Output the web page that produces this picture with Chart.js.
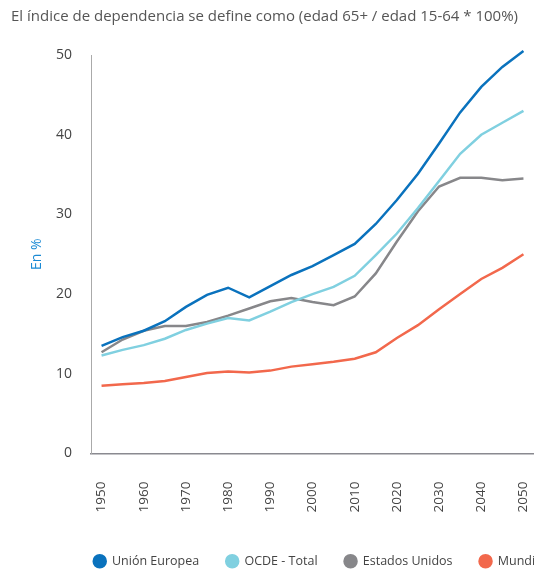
<!DOCTYPE html>
<html>
<head>
<meta charset="utf-8">
<script src="https://cdn.jsdelivr.net/npm/chart.js@4"></script>
<style>
  html, body { margin: 0; padding: 0; background: #fff; overflow: hidden; }
  #box { width: 534px; height: 569px; }
</style>
</head>
<body>
<div id="box"><canvas id="chart"></canvas></div>
<script>
const years = ['1950', '1955', '1960', '1965', '1970', '1975', '1980', '1985', '1990', '1995', '2000',
    '2005', '2010', '2015', '2020', '2025', '2030', '2035', '2040', '2045', '2050'];
const unionEuropea = [13.5, 14.6, 15.4, 16.6, 18.4, 19.9, 20.8, 19.6, 21.0, 22.4, 23.5,
    24.9, 26.3, 28.8, 31.8, 35.1, 38.9, 42.8, 46.0, 48.5, 50.5];
const ocdeTotal = [12.3, 13.0, 13.6, 14.4, 15.5, 16.3, 17.0, 16.7, 17.8, 19.0, 20.0,
    20.9, 22.3, 24.9, 27.6, 30.8, 34.2, 37.6, 40.0, 41.5, 43.0];
const estadosUnidos = [12.7, 14.3, 15.4, 16.0, 16.0, 16.5, 17.3, 18.2, 19.1, 19.5, 19.0,
    18.6, 19.7, 22.6, 26.6, 30.4, 33.5, 34.6, 34.6, 34.3, 34.5];
const mundial = [8.5, 8.7, 8.85, 9.1, 9.6, 10.1, 10.3, 10.15, 10.4, 10.9, 11.2,
    11.5, 11.9, 12.7, 14.5, 16.1, 18.1, 20.0, 21.9, 23.3, 25.0];
const yTicks = [0, 10, 20, 30, 40, 50];

const font = "'Open Sans', 'Noto Sans', sans-serif";

function line(label, data, color) {
    return {
        label: label,
        data: data,
        borderColor: color,
        backgroundColor: color,
        borderWidth: 2.5,
        pointRadius: 0,
        tension: 0,
        clip: 6
    };
}

// the legend in the original runs off the right edge, so push it over a bit
const shiftLegend = {
    id: 'shiftLegend',
    afterLayout(chart) {
        const lg = chart.legend;
        lg.left += 47; lg.right += 47;
        lg.top += 8.5; lg.bottom += 8.5;
    }
};

new Chart(document.getElementById('chart').getContext('2d'), {
    type: 'line',
    data: {
        labels: years,
        datasets: [
            line('Unión Europea', unionEuropea, '#0a72bd'),
            line('OCDE - Total', ocdeTotal, '#80d0e0'),
            line('Estados Unidos', estadosUnidos, '#87878a'),
            line('Mundial', mundial, '#f2684c')
        ]
    },
    plugins: [shiftLegend],
    options: {
        responsive: true,
        maintainAspectRatio: false,
        animation: false,
        layout: { padding: { left: 11, right: 0, top: 0, bottom: 0 } },
        plugins: {
            title: {
                display: true,
                text: 'El índice de dependencia se define como (edad 65+ / edad 15-64 * 100%)',
                align: 'start',
                color: '#555',
                font: { family: font, size: 15, weight: 'normal' },
                padding: { top: 8, bottom: 29 }
            },
            legend: {
                position: 'bottom',
                labels: {
                    usePointStyle: true,
                    pointStyle: 'circle',
                    boxWidth: 12,
                    boxHeight: 8.5,
                    padding: 27,
                    color: '#444',
                    font: { family: font, size: 12.5 }
                }
            },
            tooltip: { enabled: false }
        },
        scales: {
            x: {
                offset: true,
                afterFit: function (scale) {
                    scale.height = 66;
                    scale.paddingLeft = 0;
                    scale.paddingRight = 0;
                },
                grid: { display: false, drawTicks: false },
                border: { color: '#8a8a90', width: 1.5 },
                ticks: {
                    autoSkip: false,
                    minRotation: 90,
                    maxRotation: 90,
                    padding: 28,
                    color: '#444',
                    font: { family: font, size: 13.5 },
                    callback: function (value, index) {
                        return index % 2 === 0 ? years[index] : '';
                    }
                }
            },
            y: {
                min: 0,
                max: 50,
                afterBuildTicks: function (scale) {
                    scale.ticks = yTicks.map(v => ({ value: v }));
                },
                afterFit: function (scale) {
                    scale.width = 80;
                },
                grid: { display: false, drawTicks: false },
                border: { color: '#aaa', width: 1 },
                title: {
                    display: true,
                    text: 'En %',
                    color: '#1a8ad4',
                    font: { family: font, size: 14 },
                    padding: { top: 18, bottom: 0 }
                },
                ticks: {
                    padding: 19,
                    color: '#444',
                    font: { family: font, size: 14 }
                }
            }
        }
    }
});
</script>
</body>
</html>
